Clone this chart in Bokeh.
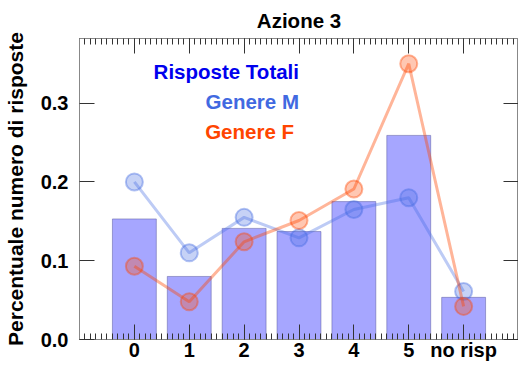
from bokeh.plotting import figure
from bokeh.models import LinearAxis, FixedTicker, PrintfTickFormatter, ColumnDataSource
from bokeh.core.properties import value
from bokeh.embed import file_html
from bokeh.resources import INLINE

# ---- data ----
categories = ["0", "1", "2", "3", "4", "5", "no risp"]
totali = [0.153, 0.080, 0.141, 0.137, 0.175, 0.259, 0.0535]
genere_m = [0.200, 0.110, 0.155, 0.129, 0.165, 0.180, 0.061]
genere_f = [0.093, 0.048, 0.124, 0.151, 0.191, 0.350, 0.042]
y_ticks = [0.0, 0.1, 0.2, 0.3]
legend_labels = ["Risposte Totali", "Genere M", "Genere F"]

xpos = list(range(len(categories)))
FONT = "Liberation Sans"
FS = "20px"

p = figure(frame_width=439, frame_height=301, x_range=(-1, 7), y_range=(0, 0.382),
           output_backend="svg", toolbar_location=None,
           min_border_left=0, min_border_right=0, min_border_top=0, min_border_bottom=0)
p.background_fill_color = "white"
p.border_fill_color = "white"
p.outline_line_color = "#888888"
p.xgrid.visible = False
p.ygrid.visible = False

p.title.text = "Azione 3"
p.title.align = "center"
p.title.text_font = FONT
p.title.text_font_size = "20.5px"
p.title.text_font_style = "bold"
p.title.text_color = "black"
p.title.standoff = 13

src = ColumnDataSource(dict(x=xpos, tot=totali, m=genere_m, f=genere_f))

p.vbar(x="x", top="tot", width=0.8, bottom=0, source=src,
       fill_color="blue", fill_alpha=0.35, line_color="#5a5aa0", line_alpha=0.5, line_width=1)

p.line("x", "m", source=src, line_color="royalblue", line_alpha=0.35, line_width=3)
p.scatter("x", "m", source=src, size=17, marker="circle", fill_color="royalblue",
          fill_alpha=0.3, line_color="royalblue", line_alpha=0.4, line_width=2)
p.line("x", "f", source=src, line_color="orangered", line_alpha=0.4, line_width=3)
p.scatter("x", "f", source=src, size=17, marker="circle", fill_color="orangered",
          fill_alpha=0.3, line_color="orangered", line_alpha=0.4, line_width=2)

# annotation labels
label_x = [3.0, 3.0, 3.0]
label_y = [0.34, 0.302, 0.264]
label_dx = [0, 0, -5]
label_colors = ["#0000ee", "royalblue", "orangered"]
p.text(x=label_x, y=label_y, text=legend_labels, text_color=label_colors,
       x_offset=label_dx, text_align="right", text_baseline="middle",
       text_font=value(FONT), text_font_size=value("20.5px"), text_font_style="bold")

minor = [round(i * 0.1, 1) for i in range(-10, 71)]


def style(ax):
    ax.axis_line_color = "#888888"
    ax.major_tick_line_color = "#333333"
    ax.minor_tick_line_color = "#333333"
    ax.major_tick_in = 15
    ax.major_tick_out = 0
    ax.minor_tick_in = 6
    ax.minor_tick_out = 0
    ax.major_label_text_font = FONT
    ax.major_label_text_font_size = FS
    ax.major_label_text_font_style = "bold"
    ax.major_label_text_color = "black"


xa = p.xaxis[0]
xa.ticker = FixedTicker(ticks=xpos, minor_ticks=minor)
xa.major_label_overrides = {i: c for i, c in zip(xpos, categories)}
style(xa)
xa.major_label_standoff = -1

ya = p.yaxis[0]
ya.ticker = FixedTicker(ticks=y_ticks, minor_ticks=[])
ya.formatter = PrintfTickFormatter(format="%.1f")
style(ya)
ya.major_label_standoff = 11
ya.axis_label = "Percentuale numero di risposte"
ya.axis_label_text_font = FONT
ya.axis_label_text_font_size = "21px"
ya.axis_label_text_font_style = "bold"
ya.axis_label_text_color = "black"
ya.axis_label_standoff = 11

top = LinearAxis(ticker=FixedTicker(ticks=xpos, minor_ticks=minor))
style(top)
top.major_label_overrides = {i: "" for i in xpos}
top.major_label_standoff = 0
p.add_layout(top, "above")

right = LinearAxis(ticker=FixedTicker(ticks=y_ticks, minor_ticks=[]))
style(right)
right.major_label_overrides = {t: "" for t in y_ticks}
right.major_label_standoff = 0
p.add_layout(right, "right")

open("out.html", "w").write(file_html(p, INLINE))
